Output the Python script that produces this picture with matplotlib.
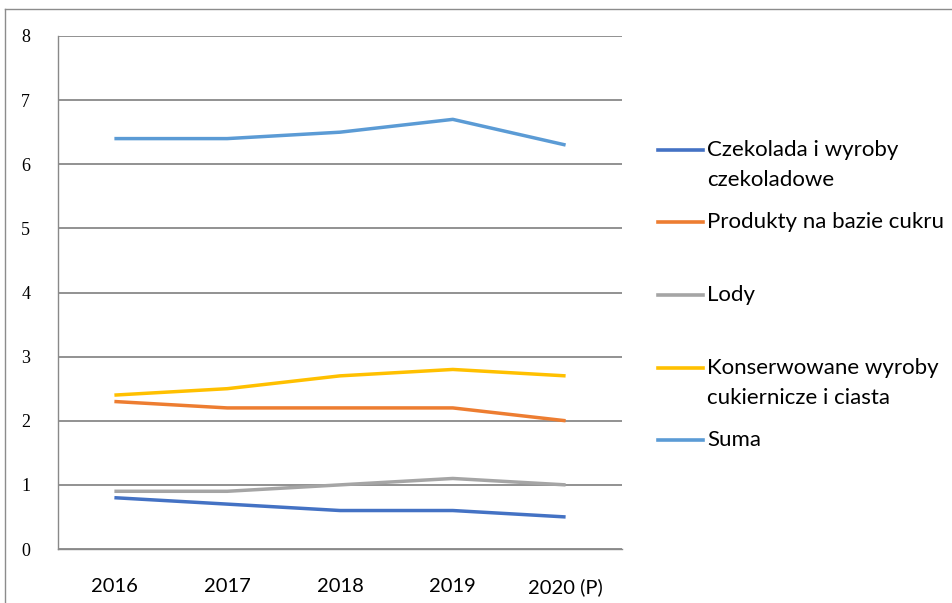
import matplotlib
matplotlib.use("Agg")
import matplotlib.pyplot as plt
from matplotlib.lines import Line2D

years = ["2016", "2017", "2018", "2019", "2020 (P)"]
czekolada = [0.8, 0.7, 0.6, 0.6, 0.5]
produkty = [2.3, 2.2, 2.2, 2.2, 2.0]
lody = [0.9, 0.9, 1.0, 1.1, 1.0]
konserwowane = [2.4, 2.5, 2.7, 2.8, 2.7]
suma = [6.4, 6.4, 6.5, 6.7, 6.3]

labels = ["Czekolada i wyroby\nczekoladowe", "Produkty na bazie cukru", "Lody",
          "Konserwowane wyroby\ncukiernicze i ciasta", "Suma"]
series = [czekolada, produkty, lody, konserwowane, suma]
colors = ["#4472C4", "#ED7D31", "#A5A5A5", "#FFC000", "#5B9BD5"]

W, H = 952, 603
fig = plt.figure(figsize=(W / 100, H / 100), dpi=100)

def fx(px):
    return px / W

def fy(py):
    return 1 - py / H

ax = fig.add_axes([fx(58), fy(549), fx(622) - fx(58), fy(36) - fy(549)])
x = list(range(len(years)))
for vals, c in zip(series, colors):
    ax.plot(x, vals, color=c, lw=2.5, solid_capstyle="butt", zorder=3)

ax.set_xlim(-0.5, len(years) - 0.5)
ax.set_ylim(0, 8)
ax.set_yticks(range(0, 9))
ax.set_xticks(x)
ax.set_xticklabels(years, fontfamily="Lato", fontsize=14.5)
ax.set_yticklabels([str(v) for v in range(0, 9)], fontfamily="Liberation Serif", fontsize=13)
ax.tick_params(axis="y", length=0, pad=20)
ax.tick_params(axis="x", length=0, pad=21)
ax.grid(axis="y", color="#898989", lw=1.3)
ax.set_axisbelow(True)
for s in ["top", "right"]:
    ax.spines[s].set_visible(False)
ax.spines["left"].set_color("#898989")
ax.spines["bottom"].set_color("#898989")
ax.spines["left"].set_linewidth(1.0)
ax.spines["bottom"].set_linewidth(1.0)

# legend (manual)
ys = [150, 222, 295, 368, 440]
for lab, c, yy in zip(labels, colors, ys):
    fig.add_artist(Line2D([fx(658), fx(703)], [fy(yy), fy(yy)], color=c, lw=2.6,
                          transform=fig.transFigure))
    fig.text(fx(707), fy(yy - 10), lab, fontfamily="Lato", fontsize=16, va="top",
             ha="left", linespacing=1.6, transform=fig.transFigure)

# outer border (left and top)
fig.add_artist(Line2D([fx(5), fx(5)], [fy(9), 0], color="#8c8c8c", lw=1.0, transform=fig.transFigure))
fig.add_artist(Line2D([fx(5), 1], [fy(9), fy(9)], color="#8c8c8c", lw=1.0, transform=fig.transFigure))

fig.savefig("out.png", dpi=100)
